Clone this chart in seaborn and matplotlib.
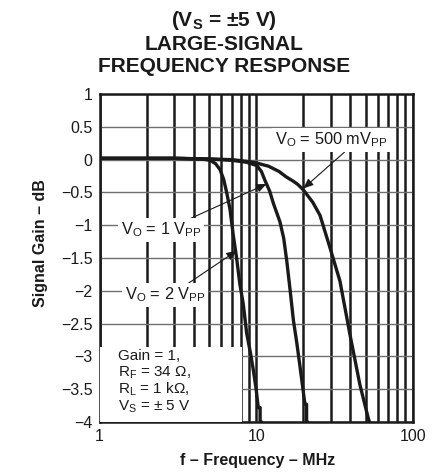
import numpy as np
import pandas as pd
import matplotlib
matplotlib.use("Agg")
import matplotlib.pyplot as plt
import seaborn as sns
from matplotlib.ticker import LogLocator, NullFormatter, FixedLocator
from matplotlib.patches import Rectangle

# Curve data (frequency in MHz, gain in dB)
freq_2vpp = [1, 2, 3, 4.5, 5.07, 5.5, 5.87, 6.2, 6.48, 6.8, 7.14, 7.5, 7.87, 8.27, 8.7, 9.2, 9.58, 10.0, 10.31, 10.6, 10.6, 10.84]
gain_2vpp = [0.02, 0.02, 0.02, 0.01, -0.01, -0.06, -0.15, -0.3, -0.5, -0.75, -1.15, -1.5, -1.9, -2.2, -2.65, -2.95, -3.2, -3.5, -3.78, -3.78, -4.0, -4.0]

freq_1vpp = [1, 2, 3, 5, 7, 8.7, 10.1, 10.8, 11.4, 12.2, 12.9, 14.2, 15.0, 15.7, 16.5, 17.3, 18.2, 19.05, 20.5, 21.0, 21.0, 21.3]
gain_1vpp = [0.02, 0.02, 0.02, 0.01, -0.01, -0.04, -0.09, -0.18, -0.32, -0.48, -0.67, -0.95, -1.2, -1.55, -2.0, -2.45, -2.8, -3.15, -3.73, -3.73, -4.0, -4.0]

freq_500 = [1, 2, 3, 5, 7, 9, 10, 12, 14, 15.5, 17.3, 18.5, 20, 23, 25.6, 29.6, 34.3, 39.7, 46, 52, 53]
gain_500 = [0.02, 0.02, 0.02, 0.01, 0.0, -0.03, -0.05, -0.1, -0.18, -0.26, -0.33, -0.38, -0.46, -0.65, -0.85, -1.34, -1.85, -2.66, -3.43, -3.94, -4.0]

y_ticks = [1, 0.5, 0, -0.5, -1, -1.5, -2, -2.5, -3, -3.5, -4]
y_labels = ["1", "0.5", "0", "\u22120.5", "\u22121", "\u22121.5", "\u22122", "\u22122.5", "\u22123", "\u22123.5", "\u22124"]
x_ticks = [1, 10, 100]
x_labels = ["1", "10", "100"]

param_lines = ["Gain = 1,", "R$_\\mathrm{F}$ = 34 \u03a9,", "R$_\\mathrm{L}$ = 1 k\u03a9,", "V$_\\mathrm{S}$ = \u00b1 5 V"]

df = pd.concat([
    pd.DataFrame({"f": freq_2vpp, "gain": gain_2vpp, "Vo": "2 Vpp"}),
    pd.DataFrame({"f": freq_1vpp, "gain": gain_1vpp, "Vo": "1 Vpp"}),
    pd.DataFrame({"f": freq_500, "gain": gain_500, "Vo": "500 mVpp"}),
])

sns.set_style("white")
plt.rcParams["font.family"] = ["Liberation Sans", "DejaVu Sans"]
plt.rcParams["mathtext.fontset"] = "custom"
plt.rcParams["mathtext.rm"] = "Liberation Sans"
plt.rcParams["mathtext.it"] = "Liberation Sans:italic"
plt.rcParams["mathtext.bf"] = "Liberation Sans:bold"

ink = "#1a1a1a"

fig = plt.figure(figsize=(4.39, 4.76), dpi=100)
ax = fig.add_axes([0.227, 0.1134, 0.713, 0.689])

ax.set_xscale("log")
ax.set_xlim(1, 100)
ax.set_ylim(-4, 1)

# grid
ax.xaxis.set_major_locator(FixedLocator(x_ticks))
ax.xaxis.set_minor_locator(LogLocator(base=10, subs=np.arange(2, 10)))
ax.xaxis.set_minor_formatter(NullFormatter())
ax.set_xticks(x_ticks)
ax.set_xticklabels(x_labels)
ax.set_yticks(y_ticks)
ax.set_yticklabels(y_labels)
ax.grid(True, which="both", axis="x", color=ink, linewidth=1.8)
ax.grid(True, which="major", axis="y", color="#6e6e6e", linewidth=1.0)
ax.set_axisbelow(True)
ax.tick_params(which="both", length=0, labelsize=11.5, colors=ink, pad=5)
for s in ax.spines.values():
    s.set_color(ink)
    s.set_linewidth(1.8)

sns.lineplot(data=df, x="f", y="gain", hue="Vo", palette=[ink] * 3,
             linewidth=2.4, sort=False, estimator=None, legend=False, ax=ax, zorder=3)

# parameter box
ax.add_patch(Rectangle((0, 0), 0.454, 0.228, transform=ax.transAxes,
                       facecolor="white", edgecolor="none", zorder=4))
for i, line in enumerate(param_lines):
    ax.text(0.058, 0.19 - i * 0.052, line, transform=ax.transAxes,
            ha="left", va="baseline", fontsize=11, color=ink, zorder=5)

arrow = dict(arrowstyle="-|>,head_length=0.6,head_width=0.25", color=ink,
             lw=0.8, shrinkA=0, shrinkB=0)
box = dict(facecolor="white", edgecolor="none", pad=2)

# 500 mVpp
ax.annotate("", xy=(20, -0.44), xytext=(39.8, 0.19), arrowprops=arrow, zorder=5)
ax.text(30.1, 0.30, "V$_\\mathrm{O}$ = 500 mV$_\\mathrm{PP}$", ha="center", va="center",
        fontsize=11.8, bbox=box, zorder=6, color=ink)
# 1 Vpp
ax.annotate("", xy=(11.67, -0.37), xytext=(3.78, -0.90), arrowprops=arrow, zorder=5)
ax.text(2.46, -1.07, "V$_\\mathrm{O}$ = 1 V$_\\mathrm{PP}$", ha="center", va="center",
        fontsize=11.8, bbox=box, zorder=6, color=ink)
# 2 Vpp
ax.annotate("", xy=(7.5, -1.39), xytext=(3.31, -1.96), arrowprops=arrow, zorder=5)
ax.text(2.61, -2.06, "V$_\\mathrm{O}$ = 2 V$_\\mathrm{PP}$", ha="center", va="center",
        fontsize=11.8, bbox=box, zorder=6, color=ink)

ax.set_xlabel("")
ax.set_ylabel("")
fig.text(258 / 439, 1 - 460 / 476, "f \u2013 Frequency \u2013 MHz", ha="center", va="center",
         fontsize=11.5, fontweight="bold", color=ink)
fig.text(40 / 439, 1 - 243 / 476, "Signal Gain \u2013 dB", ha="center", va="center",
         rotation=90, fontsize=11.5, fontweight="bold", color=ink)

title_lines = ["(V$_\\mathbf{S}$ = \u00b15 V)", "LARGE-SIGNAL", "FREQUENCY RESPONSE"]
for i, t in enumerate(title_lines):
    fig.text(224 / 439, 1 - (21 + 23 * i) / 476, t, ha="center", va="center",
             fontsize=15, fontweight="bold", color=ink)

fig.savefig("out.png", dpi=100)
